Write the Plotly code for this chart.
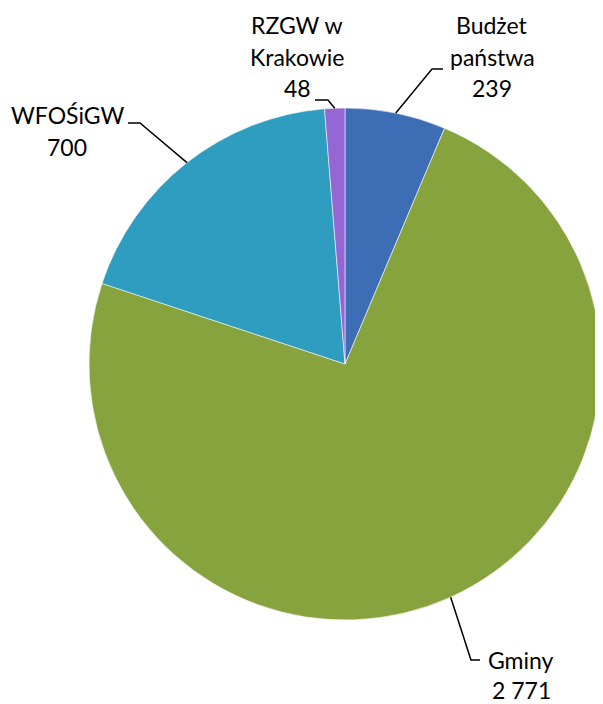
import math
import plotly.graph_objects as go

# ---- data ----
labels = ["Budżet państwa", "Gminy", "WFOŚiGW", "RZGW w Krakowie"]
values = [239, 2771, 700, 48]
label_lines = [["Budżet", "państwa", "239"], ["Gminy", "2 771"],
               ["WFOŚiGW", "700"], ["RZGW w", "Krakowie", "48"]]
colors = ["#3D6DB5", "#87A33E", "#2F9DBF", "#9467D4"]

# ---- layout geometry (screen pixels; page body has an 8px margin) ----
OFF = 8
FW, FH = 603 - OFF, 704 - OFF
cx, cy, r = 345, 364, 256

def px(x):
    return (x - OFF) / FW

def py(y):
    return 1 - (y - OFF) / FH

# label text centre x and first-line y, line step
label_pos = [(492, 25), (521, 660), (67, 115), (297, 25)]
line_step = 31.5
elbows = [((471, 660), (480, 660)), ((471, 660), (480, 660)),
          ((140, 123), (128, 123)), ((328, 100), (315, 100))]
elbows[0] = ((432, 69), (443, 69))

fig = go.Figure()
fig.add_trace(go.Pie(
    labels=labels, values=values,
    marker=dict(colors=colors, line=dict(color="rgba(255,255,255,0.55)", width=1)),
    sort=False, direction="clockwise", rotation=0,
    textinfo="none", textposition="none",
    domain=dict(x=[px(cx - r), px(cx + r)], y=[py(cy + r), py(cy - r)]),
    showlegend=False,
))

total = sum(values)
cum = 0
shapes = []
annotations = []
for i, v in enumerate(values):
    mid = (cum + v / 2) / total * 2 * math.pi
    cum += v
    ex = cx + r * math.sin(mid)
    ey = cy - r * math.cos(mid)
    (bx, by), (fx, fy) = elbows[i]
    path = f"M {px(ex)} {py(ey)} L {px(bx)} {py(by)} L {px(fx)} {py(fy)}"
    shapes.append(dict(type="path", path=path, xref="paper", yref="paper",
                       line=dict(color="black", width=1.5)))
    lx, ly = label_pos[i]
    step = 30 if len(label_lines[i]) == 2 and i == 1 else line_step
    for j, t in enumerate(label_lines[i]):
        annotations.append(dict(x=px(lx), y=py(ly + j * step),
                                xref="paper", yref="paper",
                                text=t, showarrow=False,
                                xanchor="center", yanchor="middle", align="center",
                                font=dict(family="Lato", size=23, color="black")))

fig.update_layout(
    width=FW, height=FH,
    margin=dict(l=0, r=0, t=0, b=0),
    paper_bgcolor="white", plot_bgcolor="white",
    shapes=shapes, annotations=annotations,
)
fig.write_html("out.html")
